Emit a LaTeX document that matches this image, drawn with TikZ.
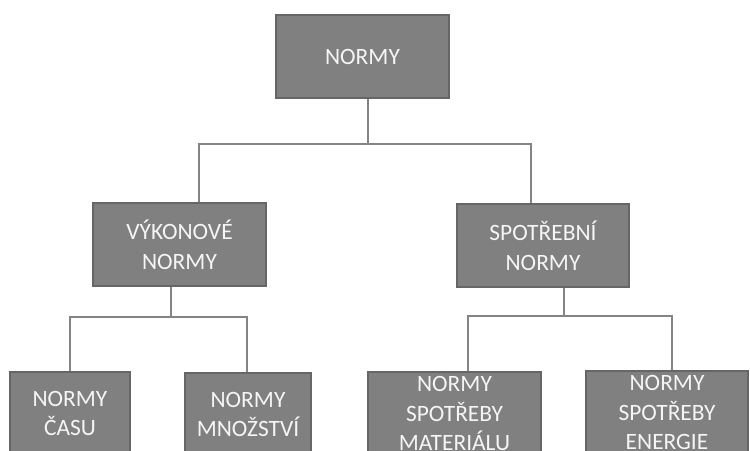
\documentclass[tikz,border=0pt]{standalone}
\usepackage{fontspec}
\setmainfont{Carlito}
\usepackage{tikz}
\usetikzlibrary{positioning,calc}
\definecolor{normfill}{RGB}{128,128,128}
\definecolor{normedge}{RGB}{102,102,102}
\definecolor{normline}{RGB}{132,132,132}
\definecolor{normtext}{RGB}{245,245,245}
\begin{document}
\begin{tikzpicture}[
nbox/.style={draw=normedge, line width=1.5pt, fill=normfill, text=normtext,
minimum height=2.49cm, align=center, inner sep=0pt,
font=\fontsize{20}{25.4}\selectfont},
link/.style={draw=normline, line width=2.5pt}
]
\path[use as bounding box, clip] (0,0) rectangle (22.5,13.5);

\node[nbox, minimum width=5.19cm] (top) at (10.875,11.805) {NORMY};

\node[nbox, minimum width=5.19cm] (vyk) at (5.385,6.165) {VÝKONOVÉ\\NORMY};
\node[nbox, minimum width=5.16cm] (spot) at (16.29,6.135) {SPOTŘEBNÍ\\NORMY};

\node[nbox, minimum width=3.6cm] (cas) at (2.1,1.095) {NORMY\\ČASU};
\node[nbox, minimum width=3.78cm] (mnoz) at (7.44,1.065) {NORMY\\MNOŽSTVÍ};
\node[nbox, minimum width=5.19cm] (mat) at (13.635,1.095) {NORMY\\SPOTŘEBY\\MATERIÁLU};
\node[nbox, minimum width=4.86cm] (ene) at (20.01,1.125) {NORMY\\SPOTŘEBY\\ENERGIE};

% junctions of the tree
\coordinate (t0) at (11.04,9.18);
\coordinate (t0l) at (5.97,9.18);
\coordinate (t0r) at (15.93,9.18);
\coordinate (t1) at (5.13,3.99);
\coordinate (t1l) at (2.1,3.99);
\coordinate (t1r) at (7.41,3.99);
\coordinate (t2) at (16.92,4.02);
\coordinate (t2l) at (14.04,4.02);
\coordinate (t2r) at (20.16,4.02);

\draw[link] (top.south -| t0) -- (t0);
\draw[link] (t0l |- vyk.north) -- (t0l) -- (t0r) -- (t0r |- spot.north);

\draw[link] (vyk.south -| t1) -- (t1);
\draw[link] (t1l |- cas.north) -- (t1l) -- (t1r) -- (t1r |- mnoz.north);

\draw[link] (spot.south -| t2) -- (t2);
\draw[link] (t2l |- mat.north) -- (t2l) -- (t2r) -- (t2r |- ene.north);

\end{tikzpicture}
\end{document}
